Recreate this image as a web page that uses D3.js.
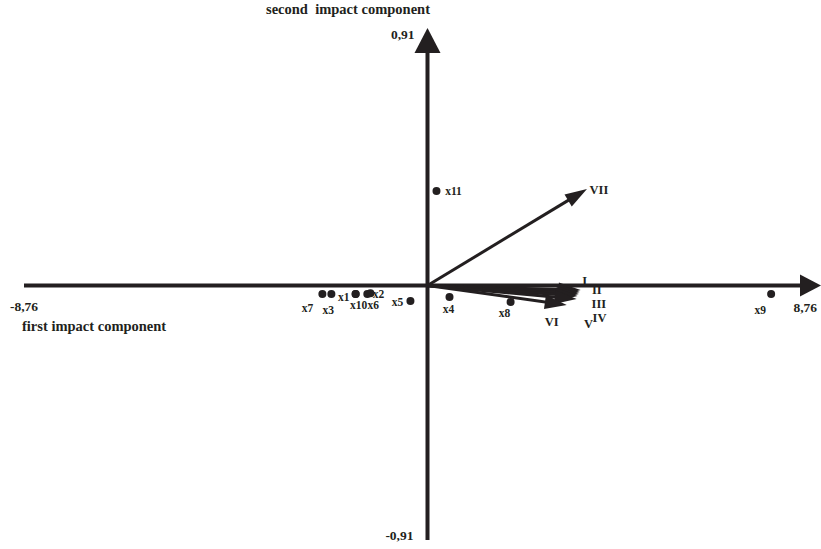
<!DOCTYPE html>
<html>
<head>
<meta charset="utf-8">
<script src="https://cdn.jsdelivr.net/npm/d3@7"></script>
<style>
  body { margin: 0; background: #fff; }
  text { font-family: "Liberation Serif", "Times New Roman", serif; font-weight: bold; fill: #231f20; }
</style>
</head>
<body>
<div id="biplot"></div>
<script>
const width = 821, height = 549;

// objects (points) in the plane of the first two components
const pointNames = ["x1", "x2", "x3", "x4", "x5", "x6", "x7", "x8", "x9", "x10", "x11"];
const pointX = [-1.60, -1.27, -2.14, 0.49, -0.38, -1.34, -2.34, 1.85, 7.65, -1.60, 0.20];
const pointY = [-0.030, -0.027, -0.030, -0.041, -0.055, -0.030, -0.030, -0.058, -0.030, -0.030, 0.334];

// variables (vectors from origin)
const vectorNames = ["I", "II", "III", "IV", "V", "VI", "VII"];
const vectorX = [3.41, 3.39, 3.37, 3.34, 3.32, 3.10, 3.55];
const vectorY = [-0.016, -0.023, -0.030, -0.037, -0.048, -0.069, 0.341];

const xMax = 8.76, yMax = 0.91;
const xTickLabels = ["-8,76", "8,76"];
const yTickLabels = ["-0,91", "0,91"];

// label offsets (px, from the mark)
const pointLabelOffset = {
  x1: [-12, 3], x2: [8, 1], x3: [-3, 16], x4: [-1, 12], x5: [-13, 1], x6: [6, 11],
  x7: [-15, 14], x8: [-6, 11], x9: [-11, 16], x10: [3, 11], x11: [17, 0]
};
const vectorLabelOffset = {
  I: [4, -9], II: [17, -2], III: [20, 10], IV: [22, 22], V: [12, 25], VI: [-15, 17], VII: [12, 1]
};

const x = d3.scaleLinear().domain([-xMax, xMax]).range([34, 821]);
const y = d3.scaleLinear().domain([-yMax, yMax]).range([543, 28]);

const svg = d3.select("#biplot").append("svg")
    .attr("width", width)
    .attr("height", height);

const ink = "#231f20";

// draw a line with a filled triangle head; tip is at (x2, y2)
function arrow(g, x1, y1, x2, y2, headLen, headHalf, strokeW) {
  const a = Math.atan2(y2 - y1, x2 - x1);
  const bx = x2 - headLen * Math.cos(a), by = y2 - headLen * Math.sin(a);
  g.append("line")
    .attr("x1", x1).attr("y1", y1)
    .attr("x2", bx + 2 * Math.cos(a)).attr("y2", by + 2 * Math.sin(a))
    .attr("stroke", ink).attr("stroke-width", strokeW);
  const px = -Math.sin(a), py = Math.cos(a);
  g.append("path")
    .attr("d", d3.line()([
      [x2, y2],
      [bx + headHalf * px, by + headHalf * py],
      [bx - headHalf * px, by - headHalf * py]
    ]) + "Z")
    .attr("fill", ink);
}

// axes
const axes = svg.append("g");
arrow(axes, x(-xMax) - 10, y(0), x(xMax), y(0), 21, 11, 4);
arrow(axes, x(0), y(-yMax) - 3, x(0), y(yMax), 25, 13, 4);

svg.append("text").attr("x", x(-xMax) - 24).attr("y", y(0) + 25)
  .style("font-size", "13.5px").text(xTickLabels[0]);
svg.append("text").attr("x", x(xMax) - 4).attr("y", y(0) + 26)
  .attr("text-anchor", "end").style("font-size", "13.5px").text(xTickLabels[1]);
svg.append("text").attr("x", x(0) - 14).attr("y", y(-yMax) - 3)
  .attr("text-anchor", "end").style("font-size", "13.5px").text(yTickLabels[0]);
svg.append("text").attr("x", x(0) - 13).attr("y", y(yMax) + 11)
  .attr("text-anchor", "end").style("font-size", "13.5px").text(yTickLabels[1]);

svg.append("text").attr("x", 348).attr("y", 14)
  .attr("text-anchor", "middle").style("font-size", "14.5px")
  .style("white-space", "pre").text("second  impact component");
svg.append("text").attr("x", 22).attr("y", 331)
  .style("font-size", "14.5px").text("first impact component");

// vectors
const vecs = svg.append("g");
vectorNames.forEach((n, i) => {
  arrow(vecs, x(0), y(0), x(vectorX[i]), y(vectorY[i]), 22, 7, 3);
});
vecs.selectAll("text")
  .data(vectorNames)
  .enter()
  .append("text")
    .attr("x", (d, i) => x(vectorX[i]) + vectorLabelOffset[d][0])
    .attr("y", (d, i) => y(vectorY[i]) + vectorLabelOffset[d][1] + 4)
    .attr("text-anchor", "middle")
    .style("font-size", "12.5px")
    .text(d => d);

// points
const pts = svg.append("g");
pts.selectAll("circle")
  .data(pointNames)
  .enter()
  .append("circle")
    .attr("cx", (d, i) => x(pointX[i]))
    .attr("cy", (d, i) => y(pointY[i]))
    .attr("r", 4)
    .attr("fill", ink);
pts.selectAll("text")
  .data(pointNames)
  .enter()
  .append("text")
    .attr("x", (d, i) => x(pointX[i]) + pointLabelOffset[d][0])
    .attr("y", (d, i) => y(pointY[i]) + pointLabelOffset[d][1] + 4)
    .attr("text-anchor", "middle")
    .style("font-size", "11.5px")
    .text(d => d);
</script>
</body>
</html>
